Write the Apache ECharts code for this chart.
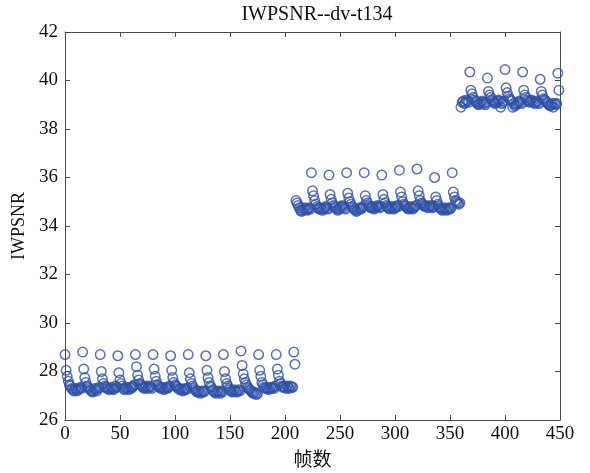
<!DOCTYPE html>
<html>
<head>
<meta charset="utf-8">
<script src="https://cdn.jsdelivr.net/npm/echarts@6/dist/echarts.min.js"></script>
<style>html,body{margin:0;padding:0;background:#fff;}#c{width:590px;height:473px;}</style>
</head>
<body>
<div id="c"></div>
<script>
var chartTitle = 'IWPSNR--dv-t134';
var xTicks = [0, 50, 100, 150, 200, 250, 300, 350, 400, 450];
var yTicks = [26, 28, 30, 32, 34, 36, 38, 40, 42];

// frames 0..209
var psnrSeg1 = [
28.70,28.05,27.80,27.60,27.45,27.40,27.30,27.25,27.20,27.25,27.30,27.20,27.25,27.30,27.35,27.30,
28.80,28.10,27.75,27.55,27.40,27.35,27.30,27.25,27.20,27.15,27.20,27.30,27.25,27.20,27.30,27.35,
28.70,28.00,27.70,27.50,27.40,27.35,27.30,27.30,27.25,27.30,27.35,27.30,27.25,27.30,27.40,27.35,
28.65,27.95,27.65,27.50,27.40,27.30,27.25,27.30,27.35,27.30,27.25,27.35,27.30,27.35,27.40,27.45,
28.70,28.20,27.85,27.65,27.50,27.45,27.40,27.35,27.30,27.35,27.40,27.30,27.35,27.40,27.35,27.30,
28.70,28.10,27.80,27.60,27.45,27.40,27.35,27.30,27.35,27.30,27.25,27.30,27.35,27.30,27.35,27.40,
28.65,28.05,27.75,27.55,27.45,27.40,27.35,27.30,27.25,27.30,27.25,27.20,27.25,27.30,27.25,27.30,
28.70,27.95,27.70,27.50,27.40,27.30,27.25,27.20,27.15,27.20,27.15,27.10,27.15,27.20,27.15,27.20,
28.65,28.05,27.75,27.55,27.40,27.35,27.25,27.20,27.15,27.10,27.15,27.20,27.15,27.10,27.20,27.15,
28.70,28.00,27.70,27.50,27.40,27.30,27.25,27.20,27.15,27.20,27.25,27.20,27.15,27.20,27.25,27.20,
28.85,28.25,27.90,27.70,27.55,27.45,27.35,27.30,27.25,27.20,27.15,27.10,27.15,27.10,27.05,27.10,
28.70,28.05,27.80,27.55,27.45,27.35,27.30,27.35,27.30,27.25,27.30,27.35,27.30,27.35,27.30,27.40,
28.70,28.10,27.85,27.60,27.50,27.40,27.35,27.40,27.35,27.30,27.40,27.35,27.30,27.40,27.35,27.35,
28.80,28.30
];
// frames 210..359
var psnrSeg2 = [
35.05,34.95,34.85,34.75,34.65,34.60,34.65,34.70,34.75,34.70,34.65,34.70,34.75,34.70,
36.20,35.45,35.25,35.05,34.90,34.80,34.75,34.70,34.75,34.70,34.65,34.70,34.75,34.80,34.75,34.70,
36.10,35.30,35.10,34.95,34.85,34.80,34.75,34.70,34.65,34.70,34.75,34.80,34.85,34.80,34.75,34.70,
36.20,35.35,35.15,35.00,34.90,34.80,34.75,34.70,34.65,34.60,34.65,34.70,34.75,34.70,34.75,34.80,
36.20,35.25,35.05,34.95,34.85,34.80,34.75,34.80,34.75,34.70,34.75,34.80,34.85,34.80,34.75,34.80,
36.10,35.30,35.10,34.95,34.85,34.80,34.75,34.70,34.75,34.80,34.75,34.70,34.75,34.80,34.85,34.80,
36.30,35.40,35.20,35.00,34.90,34.85,34.80,34.75,34.70,34.75,34.80,34.75,34.70,34.75,34.80,34.85,
36.35,35.45,35.25,35.05,34.95,34.90,34.85,34.80,34.85,34.80,34.75,34.80,34.85,34.80,34.75,34.80,
36.00,35.20,35.05,34.90,34.80,34.75,34.70,34.65,34.70,34.75,34.70,34.65,34.70,34.75,34.70,34.75,
36.20,35.40,35.20,35.05,35.00,34.95,34.90,34.95
];
// frames 360..449
var psnrSeg3 = [
38.90,39.10,39.15,39.05,39.10,39.20,39.15,39.10,
40.35,39.60,39.45,39.30,39.20,39.15,39.10,39.05,39.00,39.05,39.10,39.15,39.10,39.05,39.00,39.10,
40.10,39.55,39.40,39.30,39.20,39.15,39.10,39.05,39.10,39.15,39.20,39.15,38.90,39.05,39.10,39.15,
40.45,39.70,39.50,39.35,39.25,39.20,39.15,38.90,39.05,38.95,39.00,39.05,39.10,39.15,39.10,39.05,
40.35,39.60,39.40,39.30,39.20,39.15,39.10,39.15,39.20,39.15,39.10,39.05,39.10,39.15,39.10,39.05,
40.05,39.55,39.40,39.25,39.20,39.15,39.10,39.05,39.00,38.95,39.00,39.05,38.90,39.05,39.00,39.05,
40.30,39.60
];

var allValues = psnrSeg1.concat(psnrSeg2, psnrSeg3);
var points = allValues.map(function (v, i) { return [i, v]; });

var font = '"Liberation Serif", "Times New Roman", serif';
var axisColor = '#4a4a4a';
var chart = echarts.init(document.getElementById('c'));

function xAx(pos, showLabel) {
  return {
    type: 'value', position: pos, min: xTicks[0], max: xTicks[xTicks.length - 1], interval: 50,
    name: showLabel ? '帧数' : '', nameLocation: 'middle', nameGap: 29,
    nameTextStyle: { fontFamily: '"Noto Sans CJK SC", sans-serif', fontSize: 19, color: '#111' },
    axisLine: { show: true, onZero: false, lineStyle: { color: axisColor, width: 1 } },
    axisTick: { show: true, inside: true, length: 5, lineStyle: { color: axisColor } },
    axisLabel: { show: showLabel, fontFamily: font, fontSize: 19, color: '#111', margin: 5 },
    splitLine: { show: false }
  };
}
function yAx(pos, showLabel) {
  return {
    type: 'value', position: pos, min: yTicks[0], max: yTicks[yTicks.length - 1], interval: 2,
    name: showLabel ? 'IWPSNR' : '', nameLocation: 'middle', nameGap: 32,
    nameTextStyle: { fontFamily: font, fontSize: 18, color: '#111' },
    axisLine: { show: true, onZero: false, lineStyle: { color: axisColor, width: 1 } },
    axisTick: { show: true, inside: true, length: 5, lineStyle: { color: axisColor } },
    axisLabel: { show: showLabel, fontFamily: font, fontSize: 19, color: '#111', margin: 7 },
    splitLine: { show: false }
  };
}

chart.setOption({
  backgroundColor: '#fff',
  animation: false,
  title: {
    text: chartTitle, left: 312, top: 0, textAlign: 'center',
    textStyle: { fontFamily: font, fontSize: 20, fontWeight: 'normal', color: '#111' }
  },
  grid: { left: 65, right: 30, top: 32, bottom: 53, containLabel: false },
  xAxis: [xAx('bottom', true), xAx('top', false)],
  yAxis: [yAx('left', true), yAx('right', false)],
  series: [{
    type: 'scatter',
    data: points,
    symbol: 'circle',
    symbolSize: 9.5,
    clip: false,
    itemStyle: { color: 'rgba(0,0,0,0)', borderColor: '#3050a8', borderWidth: 1.5 }
  }]
});
</script>
</body>
</html>
